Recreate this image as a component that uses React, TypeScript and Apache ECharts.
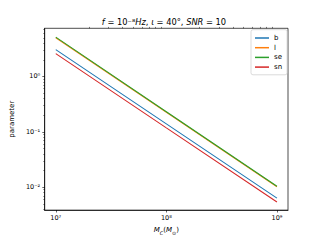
import React, { useEffect, useRef } from "react";
import * as echarts from "echarts";

const seriesNames = ["b", "l", "se", "sn"];
const colors = ["#1f77b4", "#ff7f0e", "#2ca02c", "#d62728"];
const mcValues = [1e7, 1e8, 1e9];
const bValues = [3.05, 0.139, 0.00635];
const lValues = [5.02, 0.226, 0.0102];
const seValues = [5.13, 0.231, 0.01038];
const snValues = [2.59, 0.118, 0.0054];

const xMajorTicks = [1e7, 1e8, 1e9];
const xMinorTicks = [2e7, 3e7, 4e7, 5e7, 6e7, 7e7, 8e7, 9e7, 2e8, 3e8, 4e8, 5e8, 6e8, 7e8, 8e8, 9e8];
const yMajorTicks = [0.01, 0.1, 1];
const yMinorTicks = [
  0.004, 0.005, 0.006, 0.007, 0.008, 0.009,
  0.02, 0.03, 0.04, 0.05, 0.06, 0.07, 0.08, 0.09,
  0.2, 0.3, 0.4, 0.5, 0.6, 0.7, 0.8, 0.9,
  2, 3, 4, 5, 6, 7,
];
const supDigits: Record<string, string> = { "0": "⁰", "1": "¹", "2": "²", "3": "³", "4": "⁴", "5": "⁵", "6": "⁶", "7": "⁷", "8": "⁸", "9": "⁹", "-": "⁻" };
const fmtPow = (v: number) => {
  const e = Math.round(Math.log10(v));
  return "10" + String(e).split("").map((c) => supDigits[c] || c).join("");
};

const X_MIN = Math.pow(10, 6.9);
const X_MAX = Math.pow(10, 9.1);
const Y_MIN = Math.pow(10, -2.414);
const Y_MAX = Math.pow(10, 0.87);
const FONT = "DejaVu Sans";

export default function App() {
  const ref = useRef<HTMLDivElement>(null);
  useEffect(() => {
    if (!ref.current) return;
    const chart = echarts.init(ref.current, undefined, { renderer: "svg" });
    const valuesList = [bValues, lValues, seValues, snValues];
    const axisCommon = {
      type: "log" as const,
      logBase: 10,
      splitLine: { show: false },
    };
    chart.setOption({
      animation: false,
      backgroundColor: "#ffffff",
      grid: {
        left: 40, right: 32, top: 28.3, bottom: 26.7,
        show: true, borderColor: "#000", borderWidth: 0.7, backgroundColor: "transparent",
      },
      graphic: [
        {
          type: "text",
          x: 164,
          y: 21.5,
          style: {
            text: "{i|f}{n| = 10⁻⁸}{i|Hz}{n|, }{i|ι}{n| = 40°, }{i|SNR}{n| = 10}",
            align: "center",
            verticalAlign: "middle",
            rich: {
              i: { fontFamily: FONT, fontSize: 8.3, fontStyle: "italic", fill: "#000" },
              n: { fontFamily: FONT, fontSize: 8.3, fill: "#000" },
            },
          },
        },
      ],
      legend: {
        left: 251,
        top: 29.7,
        orient: "vertical",
        padding: [4.8, 5, 4.2, 4],
        itemWidth: 14,
        itemHeight: 1.5,
        itemGap: 2.7,
        icon: "rect",
        borderColor: "#cccccc",
        borderWidth: 0.7,
        borderRadius: 2,
        backgroundColor: "rgba(255,255,255,0.8)",
        textStyle: { fontFamily: FONT, fontSize: 7, color: "#000", lineHeight: 7 },
        data: seriesNames,
      },
      xAxis: [
        {
          ...axisCommon,
          min: X_MIN,
          max: X_MAX,
          name: "{i|M}{s|C}{n|(}{i|M}{s|⊙}{n|)}",
          nameLocation: "middle",
          nameGap: 13,
          nameTextStyle: {
            rich: {
              i: { fontFamily: FONT, fontSize: 7, fontStyle: "italic", color: "#000", lineHeight: 9, verticalAlign: "top" },
              n: { fontFamily: FONT, fontSize: 7, color: "#000", lineHeight: 9, verticalAlign: "top" },
              s: { fontFamily: FONT, fontSize: 5, fontStyle: "italic", color: "#000", lineHeight: 9, verticalAlign: "bottom" },
            },
          },
          axisLine: { show: true, lineStyle: { color: "#000", width: 0.7 } },
          axisTick: { show: true, length: 2.4, lineStyle: { color: "#000", width: 0.6 }, customValues: xMajorTicks },
          axisLabel: {
            show: true, customValues: xMajorTicks, margin: 4,
            fontFamily: FONT, fontSize: 6.5, color: "#000",
            formatter: (v: number) => fmtPow(v),
          },
        },
        {
          ...axisCommon,
          min: X_MIN,
          max: X_MAX,
          axisLine: { show: false },
          axisTick: { show: true, length: 1.4, lineStyle: { color: "#000", width: 0.5 }, customValues: xMinorTicks },
          axisLabel: { show: false },
        },
      ],
      yAxis: [
        {
          ...axisCommon,
          min: Y_MIN,
          max: Y_MAX,
          name: "parameter",
          nameLocation: "middle",
          nameGap: 23.5,
          nameTextStyle: { fontFamily: FONT, fontSize: 7, color: "#000" },
          axisLine: { show: true, lineStyle: { color: "#000", width: 0.7 } },
          axisTick: { show: true, length: 2.4, lineStyle: { color: "#000", width: 0.6 }, customValues: yMajorTicks },
          axisLabel: {
            show: true, customValues: yMajorTicks, margin: 4.5,
            fontFamily: FONT, fontSize: 6.5, color: "#000",
            formatter: (v: number) => fmtPow(v),
          },
        },
        {
          ...axisCommon,
          min: Y_MIN,
          max: Y_MAX,
          position: "left",
          axisLine: { show: false },
          axisTick: { show: true, length: 1.4, lineStyle: { color: "#000", width: 0.5 }, customValues: yMinorTicks },
          axisLabel: { show: false },
        },
      ],
      series: seriesNames.map((name, i) => ({
        name,
        type: "line",
        xAxisIndex: 0,
        yAxisIndex: 0,
        data: mcValues.map((x, j) => [x, valuesList[i][j]]),
        showSymbol: false,
        symbol: "none",
        lineStyle: { color: colors[i], width: 1.1 },
        itemStyle: { color: colors[i] },
      })),
    });
    return () => chart.dispose();
  }, []);
  return <div ref={ref} style={{ width: 320, height: 240, position: "absolute", left: 0, top: 0 }} />;
}
